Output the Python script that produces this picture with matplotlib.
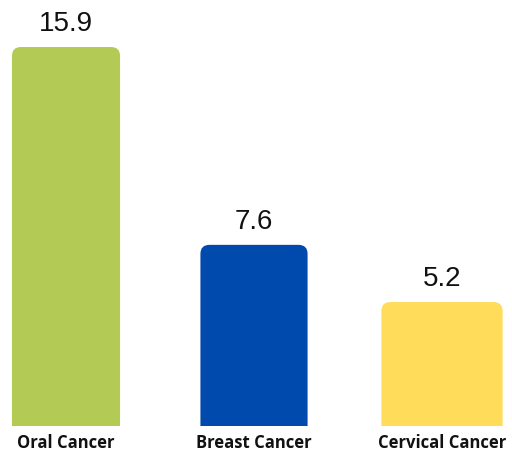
import matplotlib.pyplot as plt
from matplotlib.patches import FancyBboxPatch

categories = ['Oral Cancer', 'Breast Cancer', 'Cervical Cancer']
values = [15.9, 7.6, 5.2]
colors = ['#b3cb54', '#004aad', '#ffdc5a']
widths = [0.575, 0.57, 0.645]

fig = plt.figure(figsize=(5.12, 4.52), dpi=100)
ax = fig.add_axes([0, 25 / 452, 1, 1 - 25 / 452])
ax.set_xlim(-66 / 188, (512 - 66) / 188)
ax.set_ylim(0, 15.9 * 427 / 379)

# data units per pixel, used to keep the corner rounding circular
xpp = 1 / 188
ypp = (15.9 * 427 / 379) / 427
r = 9 * xpp

for i, (v, c, w) in enumerate(zip(values, colors, widths)):
    # start below zero so the axes clip away the bottom rounding
    ax.add_patch(FancyBboxPatch((i - w / 2, -1), w, v + 1,
                                boxstyle=f'round,pad=0,rounding_size={r}',
                                mutation_aspect=ypp / xpp,
                                fc=c, ec='none'))
    ax.annotate(f'{v}', (i, v), xytext=(0, 8), textcoords='offset points',
                ha='center', va='bottom', fontsize=20,
                family='Liberation Sans', color='#111111')

ax.set_xticks(range(len(categories)))
ax.set_xticklabels(categories, fontsize=12, fontweight='bold',
                   family='Open Sans', color='#111111')
ax.tick_params(axis='x', length=0, pad=5)
ax.set_yticks([])
for s in ax.spines.values():
    s.set_visible(False)

fig.savefig('out.png', dpi=100)
